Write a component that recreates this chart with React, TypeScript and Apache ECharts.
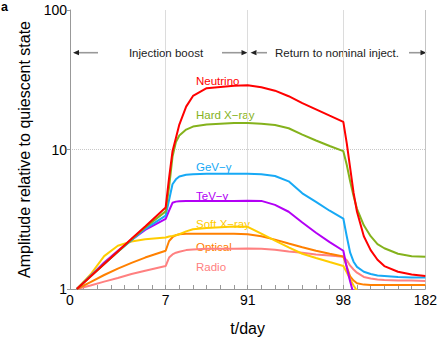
import React, { useEffect, useRef } from 'react';
import * as echarts from 'echarts';

// x positions in axis units (one unit per minor tick); labelled ticks map to days
const xUnits = [0.5, 1.5, 2.5, 3.5, 4.5, 5.5, 7, 7.25, 7.5, 7.75, 8, 8.5, 9, 10, 11, 12, 13, 14, 15, 16, 17, 18, 19, 20, 20.25, 20.5, 20.75, 21, 21.5, 22, 22.5, 23, 24, 25, 26];
const xTickUnits = [0, 7, 13, 20, 26];
const xTickLabels = ['0', '7', '91', '98', '182'];

const neutrino = [1, 1.23, 1.51, 1.86, 2.29, 2.81, 3.84, 6.26, 9.7, 12.1, 15.1, 20.3, 24.2, 27.5, 28.1, 28.6, 28.9, 27.9, 26.4, 24.1, 21.5, 19.4, 17.5, 15.8, 11.1, 7.39, 4.9, 3.58, 2.39, 1.9, 1.62, 1.46, 1.33, 1.27, 1.24];
const hardXray = [1, 1.23, 1.51, 1.85, 2.26, 2.76, 3.6, 5.37, 8.86, 11.3, 12.6, 13.9, 14.6, 15.1, 15.3, 15.5, 15.5, 15.3, 15.0, 14.2, 12.8, 11.6, 10.6, 9.73, 7.78, 5.91, 4.64, 3.76, 2.86, 2.39, 2.1, 1.96, 1.79, 1.72, 1.7];
const gevGamma = [1, 1.24, 1.52, 1.85, 2.24, 2.7, 3.36, 4.35, 5.63, 6.11, 6.41, 6.59, 6.65, 6.7, 6.7, 6.7, 6.7, 6.64, 6.46, 5.91, 4.85, 4.21, 3.64, 3.2, 2.39, 1.82, 1.57, 1.44, 1.33, 1.28, 1.25, 1.24, 1.22, 1.21, 1.21];
const tevGamma = [1, 1.24, 1.55, 1.88, 2.25, 2.65, 3.18, 3.64, 4.15, 4.23, 4.25, 4.27, 4.28, 4.28, 4.28, 4.28, 4.3, 4.28, 4.01, 3.58, 3.0, 2.53, 2.17, 1.88, 1.43, 1.13, 0.92, 0.8, 0.62, 0.5, 0.42, 0.36, 0.3, 0.26, 0.24];
const softXray = [1, 1.27, 1.72, 2.04, 2.19, 2.27, 2.34, 2.38, 2.4, 2.43, 2.47, 2.59, 2.68, 2.74, 2.77, 2.8, 2.79, 2.49, 2.22, 1.99, 1.79, 1.67, 1.56, 1.46, 1.32, 1.18, 1.06, 0.97, 0.88, 0.8, 0.74, 0.68, 0.6, 0.55, 0.5];
const optical = [1, 1.12, 1.26, 1.4, 1.54, 1.68, 1.88, 2.21, 2.35, 2.43, 2.47, 2.49, 2.49, 2.49, 2.49, 2.49, 2.47, 2.39, 2.26, 2.12, 1.99, 1.88, 1.79, 1.71, 1.45, 1.23, 1.15, 1.1, 1.075, 1.07, 1.07, 1.07, 1.07, 1.07, 1.07];
const radio = [1, 1.06, 1.13, 1.2, 1.28, 1.35, 1.46, 1.68, 1.77, 1.82, 1.85, 1.9, 1.92, 1.94, 1.94, 1.94, 1.95, 1.94, 1.91, 1.86, 1.82, 1.77, 1.74, 1.7, 1.61, 1.47, 1.38, 1.31, 1.22, 1.19, 1.17, 1.16, 1.15, 1.15, 1.14];

const seriesNames = ['Radio', 'Optical', 'Soft X\u2212ray', 'TeV\u2212\u03b3', 'GeV\u2212\u03b3', 'Hard X\u2212ray', 'Neutrino'];
const seriesValues = [radio, optical, softXray, tevGamma, gevGamma, hardXray, neutrino];
const seriesColors = ['#FF8080', '#FF8000', '#FFCC00', '#B300F5', '#17A9F5', '#84B21C', '#FF0000'];
// label anchor positions (px)
const labelPos = [[196, 267], [196, 246.5], [196, 224], [196, 196], [196, 167], [196, 115], [196, 81]];

const FONT = '"Liberation Sans", Arial, sans-serif';

export default function App() {
  const ref = useRef<HTMLDivElement>(null);
  useEffect(() => {
    const chart = echarts.init(ref.current!, null, { renderer: 'svg' });
    const xSplitColors = Array.from({ length: 27 }, (_, i) =>
      i === 26 ? '#c4c4c4' : i > 0 && xTickUnits.includes(i) ? '#dcdcdc' : 'rgba(0,0,0,0)'
    );
    const arrowY = 52.7;
    const head = (tip: number, dir: number) => ({
      type: 'polygon',
      shape: { points: [[tip, arrowY], [tip - dir * 6, arrowY - 2.6], [tip - dir * 6, arrowY + 2.6]] },
      style: { fill: '#222' },
    });
    const seg = (x1: number, x2: number) => ({
      type: 'line',
      shape: { x1, y1: arrowY, x2, y2: arrowY },
      style: { stroke: '#999', lineWidth: 1.6 },
    });
    const option: any = {
      animation: false,
      textStyle: { fontFamily: FONT },
      grid: { left: 70, right: 13, top: 10, bottom: 46, containLabel: false },
      xAxis: {
        type: 'value',
        min: 0,
        max: 26,
        interval: 1,
        name: 't/day',
        nameLocation: 'middle',
        nameGap: 31,
        nameTextStyle: { fontSize: 16, color: '#000', fontFamily: FONT },
        axisLine: { show: true, lineStyle: { color: '#999', width: 1 } },
        axisTick: { show: true, inside: true, length: 4, lineStyle: { color: '#999' } },
        axisLabel: {
          margin: 4,
          fontSize: 14,
          color: '#000',
          fontFamily: FONT,
          formatter: (v: number) => {
            const k = xTickUnits.indexOf(Math.round(v));
            return k >= 0 && Math.abs(v - Math.round(v)) < 1e-6 ? xTickLabels[k] : '';
          },
        },
        splitLine: { show: true, lineStyle: { color: xSplitColors, width: 1 } },
      },
      yAxis: {
        type: 'log',
        logBase: 10,
        min: 1,
        max: 100,
        name: 'Amplitude relative to quiescent state',
        nameLocation: 'middle',
        nameGap: 20,
        nameTextStyle: { fontSize: 16, color: '#000', fontFamily: FONT },
        axisLine: { show: true, lineStyle: { color: '#999', width: 1 } },
        axisTick: { show: true, inside: false, length: 3, lineStyle: { color: '#999' } },
        axisLabel: { margin: 3, fontSize: 14, color: '#000', fontFamily: FONT },
        splitLine: { show: true, lineStyle: { color: ['rgba(0,0,0,0)', '#c8c8c8', 'rgba(0,0,0,0)'], type: 'dotted', width: 1 } },
      },
      series: seriesNames.map((name, i) => ({
        name,
        type: 'line',
        symbol: 'none',
        clip: true,
        lineStyle: { color: seriesColors[i], width: 2 },
        itemStyle: { color: seriesColors[i] },
        data: xUnits.map((u, j) => [u, seriesValues[i][j]]),
      })),
      graphic: [
        { type: 'text', x: 1, y: 0, style: { text: 'a', fontSize: 12.5, fontWeight: 'bold', fontFamily: FONT, fill: '#000', verticalAlign: 'top' } },
        head(73, -1), seg(79, 98),
        { type: 'text', x: 166, y: arrowY, style: { text: 'Injection boost', fontSize: 11.5, fontFamily: FONT, fill: '#222', align: 'center', verticalAlign: 'middle' } },
        seg(222, 242), head(247.5, 1),
        head(250.5, -1), seg(256, 267),
        { type: 'text', x: 337, y: arrowY, style: { text: 'Return to nominal inject.', fontSize: 11.5, fontFamily: FONT, fill: '#222', align: 'center', verticalAlign: 'middle' } },
        seg(409, 421), head(426.5, 1),
        ...seriesNames.map((name, i) => ({
          type: 'text',
          x: labelPos[i][0],
          y: labelPos[i][1],
          style: { text: name, fontSize: 11.5, fontFamily: FONT, fill: seriesColors[i], verticalAlign: 'middle' },
        })),
      ],
    };
    chart.setOption(option);
    return () => chart.dispose();
  }, []);
  return <div ref={ref} style={{ position: 'absolute', left: 0, top: 0, width: 440, height: 341 }} />;
}
